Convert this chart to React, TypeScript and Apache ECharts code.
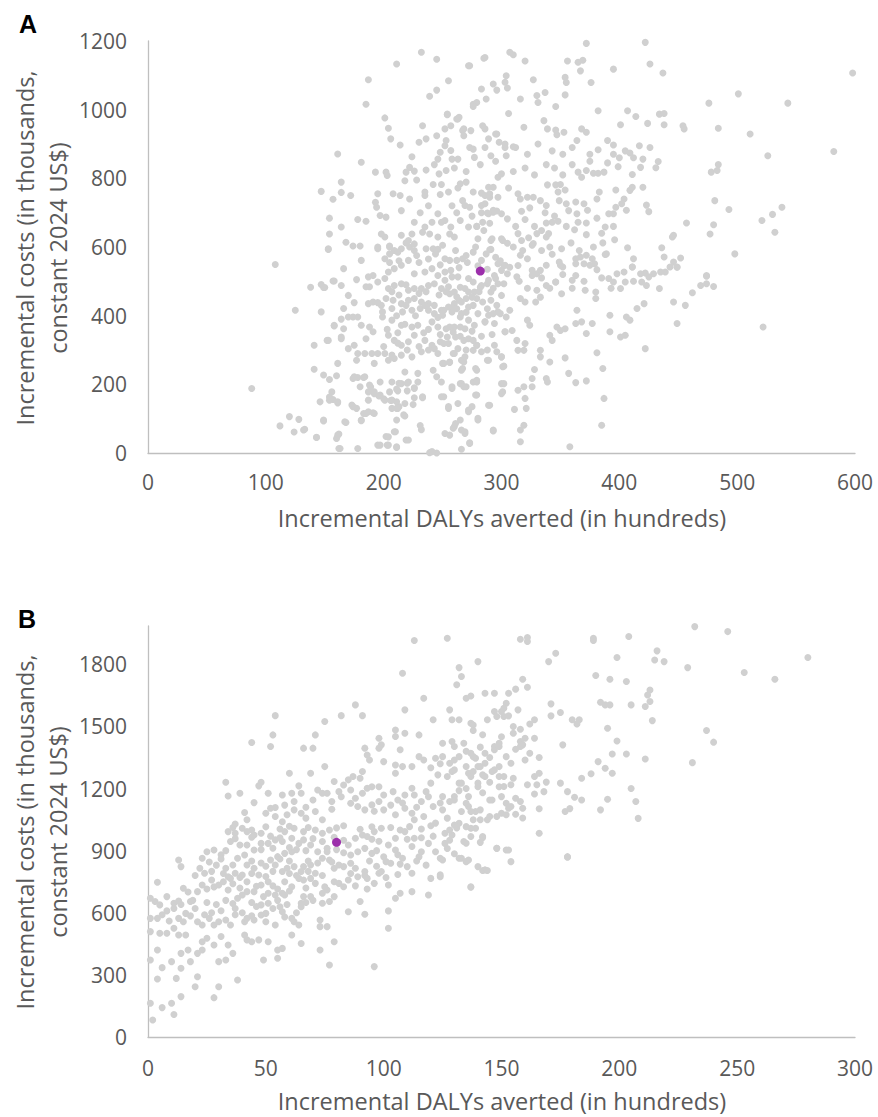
import React, { useEffect, useRef } from "react";
import * as echarts from "echarts";

// Panel A: incremental DALYs averted (hundreds) vs incremental costs (thousands, 2024 US$)
const pointsA: [number, number][] = [
  [88,188],[108,549],[125,416],[112,79],[120,106],[124,61],[128,98],[132,67],[143,46],[138,483],[147,491],[149,482],[157,501],[164,488],[147,411],[141,314],[152,328],[158,370],[164,338],[141,244],[149,227],[154,214],[160,225],[146,149],[154,163],[157,156],[161,146],[174,135],[149,93],[162,55],[168,89],[163,13],[178,13],[181,94],[185,115],[191,117],[175,222],[178,220],[183,220],[187,178],[189,192],[192,173],[196,166],[200,158],[206,153],[197,207],[207,207],[213,203],[212,181],[220,203],[220,181],[211,130],[213,135],[217,111],[226,188],[226,161],[233,161],[197,23],[202,48],[203,23],[211,16],[210,62],[219,38],[231,80],[232,68],[239,1],[245,0],
  [153,593],[166,537],[150,482],[158,501],[177,505],[181,561],[170,459],[175,438],[166,421],[164,390],[170,396],[174,396],[178,396],[187,513],[191,517],[195,498],[185,484],[188,484],[187,435],[191,440],[195,438],[181,372],[188,367],[191,353],[158,372],[166,362],[153,328],[164,333],[170,304],[175,314],[185,333],[178,290],[184,290],[190,290],[195,290],[201,290],[207,285],[177,270],[192,261],[204,270],[209,275],[161,261],[156,178],[154,154],[161,149],[174,217],[180,193],[184,222],[173,140],[177,130],[188,198],[192,178],[197,169],[201,154],[187,154],[183,115],[187,120],[192,115],[181,96],[215,202],[221,207],[226,190],[205,178],[211,186],[207,154],[211,149],[207,130],[212,130],[218,144],[225,141],[211,96],[218,108],[229,207],[233,164],[204,47],[209,62],[195,23],[204,23],[211,18],[221,38],[162,13],[160,42],[161,52],[143,45],[167,91],[149,96],[133,69],
  [195,595],[201,566],[205,580],[209,590],[215,595],[222,600],[226,590],[242,595],[246,593],[252,566],[256,561],[262,561],[267,566],[276,585],[283,561],[291,593],[297,551],[303,547],
  [204,527],[209,537],[215,547],[221,561],[226,522],[235,527],[241,537],[246,517],[252,527],[257,532],[263,513],[272,508],[289,503],[294,517],[300,532],
  [201,508],[204,479],[209,488],[215,493],[221,474],[226,479],[232,479],[238,488],[243,493],[249,479],[255,484],[260,469],[269,479],[277,469],[283,488],[291,469],[297,493],
  [202,450],[208,445],[215,435],[221,445],[226,450],[232,440],[238,435],[243,430],[249,416],[255,425],[260,435],[266,440],[272,425],[279,450],[284,440],[291,445],[300,459],
  [199,411],[207,421],[216,411],[224,416],[231,421],[238,416],[243,406],[250,401],[258,411],[265,396],[272,387],[280,406],[289,401],[297,411],[304,396],
  [199,396],[207,387],[215,372],[224,367],[229,372],[241,382],[246,367],[253,362],[260,367],[269,362],[277,372],[286,382],[294,377],[303,353],
  [204,343],[209,328],[215,314],[221,324],[226,343],[235,328],[241,314],[248,324],[255,319],[263,304],[272,333],[279,314],[283,295],[294,314],
  [215,285],[224,280],[232,295],[243,304],[250,261],[256,264],[266,270],[267,246],[279,241],[289,270],[300,280],[301,251],
  [218,236],[229,232],[242,241],[245,222],[249,207],[258,188],[266,202],[270,193],[279,207],[300,202],[301,178],
  [249,164],[255,130],[263,144],[272,120],[280,101],[279,169],[289,139],[293,67],
  [241,4],[252,57],[256,52],[260,77],[266,67],[269,62],[273,28],
  [232,1167],[245,1147],[211,1133],[272,1128],[286,1152],[187,1087],[185,1016],[255,1084],[245,1057],[239,1039],[283,1060],[293,1075],[296,1057],[304,1099],[276,1016],[279,1021],[287,1031],[201,976],[204,946],[206,915],[214,897],[254,987],[263,973],[257,953],[252,944],[233,953],[236,915],[230,905],[245,924],[267,939],[268,924],[274,939],[284,953],[286,944],[289,915],[296,929],[252,895],[253,910],[257,881],[258,856],[263,856],[248,876],[246,856],[273,890],[276,885],[277,861],[286,890],[291,866],[298,905],[303,890],[304,866],[161,871],[181,847],[224,863],[222,832],[219,818],[226,821],[218,793],[193,818],[202,818],[203,808],[228,795],[236,824],[247,813],[253,823],[147,762],[164,789],[164,759],[157,739],[172,750],[195,755],[208,755],[214,750],[222,740],[235,760],[235,750],[242,782],[249,782],[248,753],[255,760],[265,784],[270,789],[263,772],[276,760],[283,757],[286,750],[290,745],[289,774],[293,774],[300,813],[297,803],[193,730],[194,716],[197,692],[202,687],[215,706],[226,672],[235,658],[241,672],[246,697],[249,672],[252,677],[257,658],[265,677],[267,735],[269,721],[273,716],[283,721],[286,726],[289,697],[293,701],[284,672],[290,669],[154,684],[154,638],[164,658],[178,680],[185,675],[168,614],[174,603],[180,603],[153,595],[198,638],[201,629],[195,600],[205,603],[215,634],[221,619],[224,638],[226,609],[233,643],[239,638],[246,629],[256,638],[260,629],[272,658],[279,660],[280,624],[291,619],[301,619],
  [372,1193],[422,1196],[426,1133],[437,1107],[395,1118],[365,1138],[369,1144],[367,1113],[356,1142],[376,1079],[354,1094],[355,1079],[354,1043],[598,1107],[501,1046],[476,1019],[543,1019],[285,1150],[307,1167],[310,1160],[320,1142],[273,1128],[303,1080],[305,1063],[327,1087],[330,1041],[331,1021],[337,1050],[316,1031],[276,1009],[346,1009],[382,997],[407,997],[414,980],[401,956],[424,960],[434,987],[438,989],[438,956],[454,953],[455,944],[484,946],[511,929],[526,866],[582,878],[254,985],[262,973],[264,978],[306,989],[336,968],[339,944],[346,941],[347,927],[353,934],[319,949],[268,944],[295,929],[303,900],[310,892],[364,910],[368,944],[372,934],[382,883],[390,910],[395,897],[409,874],[417,895],[426,890],[420,856],[418,832],[433,849],[431,831],[399,834],[378,815],[382,815],[387,818],[372,823],[365,818],[368,803],[411,811],[397,766],[404,740],[402,726],[397,716],[406,707],[411,774],[409,765],[420,774],[423,722],[425,703],[383,760],[381,740],[363,731],[370,726],[373,707],[354,766],[346,781],[350,782],[339,781],[348,760],[349,735],[355,726],[357,706],[364,697],[365,672],[381,684],[388,658],[391,697],[395,697],[396,621],[407,598],[412,566],[422,524],[372,636],[389,580],[436,598],[438,571],[445,629],[446,634],[452,568],[446,556],[449,541],[457,670],[480,665],[477,638],[481,735],[493,709],[478,818],[483,823],[484,840],[521,677],[530,695],[538,716],[532,643],[498,580],[474,515],[290,755],[297,745],[306,772],[314,755],[316,740],[322,745],[327,745],[333,735],[338,721],[317,704],[324,714],[288,699],[293,707],[300,697],[305,682],[314,639],[317,619],[323,627],[327,610],[330,639],[334,648],[338,670],[343,672],[348,675],[338,629],[340,639],[300,624],[305,611],[292,624],[279,660],[285,648],[290,592],[316,576],[322,566],[343,579],[349,556],[352,542],[363,566],[367,571],[372,576],[377,566],[379,551],[388,578],[404,527],[411,542],[302,546],[307,541],[314,546],[326,532],[330,522],
  [474,517],[469,488],[474,493],[480,485],[462,467],[456,430],[446,440],[449,377],[522,367],[422,304],[415,421],[421,435],[406,396],[409,387],[401,479],[405,498],[411,542],[419,498],[423,488],[429,522],[435,527],[439,527],[443,542],[449,542],[418,522],[425,513],[434,479],[401,338],[405,343],[392,401],[392,353],[381,292],[386,246],[387,159],[385,81],[377,377],[372,348],[363,377],[368,382],[364,416],[357,232],[363,205],[372,210],[358,18],[354,277],[380,469],[371,474],[380,450],[391,508],[395,498],[398,522],[347,367],[350,357],[341,343],[343,328],[354,362],[351,464],[346,498],[360,503],[363,517],[370,551],[375,547],[381,534],[341,265],[338,217],[339,207],[328,243],[326,217],[326,193],[319,193],[314,183],[320,159],[321,130],[311,127],[319,81],[316,67],[316,33],[302,253],[300,280],[302,202],[300,173],[290,139],[293,64],[280,96],[278,169],[276,207],[275,135],[272,125],[269,57],[265,96],[273,30],[266,11],[261,86],[259,72],[255,135],[258,193],[251,164],[265,202],[268,193],[278,246],[279,212],[266,241],[251,261],[256,265],[268,265],[269,280],[276,299],[279,314],[288,270],[313,328],[320,319],[319,299],[314,299],[333,299],[333,280],[259,290],[251,319],[282,483],[275,454],[293,406],[286,382],[299,406],[307,416],[303,353],[309,357],[322,387],[324,372],[316,450],[320,440],[329,440],[333,454],[338,488],[346,498],[330,474],[313,513],[326,517],[333,532],[338,547],[350,547],[363,551],[254,338],[261,338],[268,328],[276,328],[256,367],[265,367],[251,416],[259,425],[266,406],[256,464],[264,445],[252,503],[258,513],[265,483],[272,469],[276,498],[288,493],[295,508],[302,493],[305,522],
  [205,600],[212,585],[219,612],[228,575],[236,595],[244,580],[250,605],[261,590],[270,575],[278,600],[287,580],[295,570],
  [205,555],[213,560],[230,555],[238,565],[248,548],[264,540],[271,555],[280,545],[288,535],[299,560],
  [207,470],[213,460],[219,490],[230,465],[236,470],[247,460],[253,470],[262,455],[270,450],[281,470],[293,480],
  [198,430],[211,400],[219,430],[227,400],[235,430],[246,395],[262,420],[270,410],[276,430],[288,420],[296,430],
  [203,360],[212,350],[218,375],[234,350],[238,360],[248,345],[259,352],[265,340],[275,355],[283,340],[292,345],
  [200,310],[212,320],[220,300],[230,310],[238,300],[246,290],[260,290],[270,300],[288,300],[296,295],
  [310,600],[318,590],[326,605],[334,590],[341,600],[351,595],[359,612],[366,590],[378,600],[386,612],
  [312,660],[320,680],[328,660],[337,700],[345,690],[355,660],[362,650],[372,670],[385,640],[395,660],
  [310,820],[320,830],[328,810],[338,840],[345,830],[352,810],[360,840],[375,850],[390,845],[400,860],
  [312,890],[322,870],[331,900],[343,880],[352,870],[360,890],[375,870],[395,870],[405,880],[412,860],
  [315,500],[322,480],[334,510],[341,480],[352,520],[360,480],[370,500],[385,510],[393,480],[412,500],
  [231,700],[238,720],[258,720],[262,700],[275,690],[283,700],[296,705],[243,840],[260,830],[270,820],[282,840],[295,850]
];
const meanA: [number, number][] = [[282, 530]];

// Panel B
const pointsB: [number, number][] = [
  [113,1915],[127,1926],[108,1757],[132,1784],[133,1741],[131,1701],[140,1813],[147,1660],[135,1636],[137,1647],[117,1636],[109,1580],[121,1532],[128,1580],[129,1532],[132,1532],[137,1515],[138,1507],[144,1532],[150,1572],[151,1548],[88,1604],[82,1552],[91,1552],[75,1524],[54,1552],[53,1459],[52,1403],[44,1422],[71,1459],[66,1395],[70,1395],[75,1306],[60,1274],[69,1274],[92,1395],[93,1362],[94,1338],[98,1443],[99,1411],[98,1395],[105,1483],[105,1451],[109,1467],[107,1387],[115,1459],[100,1330],[105,1314],[108,1306],[105,1274],[112,1306],[115,1354],[117,1338],[125,1419],[129,1427],[134,1419],[122,1346],[125,1354],[128,1322],[130,1338],[137,1370],[139,1346],[143,1370],[147,1403],[149,1419],[33,1230],[34,1164],[39,1177],[48,1230],[47,1213],[51,1177],[45,1132],[41,1084],[42,1049],[37,1029],[50,1081],[52,1105],[54,1108],[57,1169],[61,1177],[62,1137],[65,1177],[64,1213],[70,1145],[72,1193],[74,1177],[54,1065],[57,1040],[59,1073],[62,1097],[65,1081],[67,1057],[71,1089],[74,1049],[76,1177],[78,1137],[79,1234],[81,1185],[83,1217],[85,1242],[87,1258],[90,1250],[91,1282],[86,1193],[88,1153],[91,1177],[93,1201],[95,1209],[98,1209],[86,1129],[89,1113],[92,1097],[95,1121],[98,1137],[100,1169],[104,1185],[106,1145],[109,1169],[112,1201],[113,1169],[100,1097],[105,1073],[109,1105],[112,1081],[116,1137],[118,1185],[120,1226],[123,1266],[127,1258],[129,1282],[121,1113],[125,1097],[128,1137],[130,1161],[133,1226],[136,1274],[138,1282],[140,1306],[143,1322],[146,1282],[149,1306],[136,1161],[140,1209],[143,1258],[146,1145],[149,1209],[151,1258],[133,1089],[136,1113],[139,1089],[141,1049],[145,1065],[150,1081],[113,1049],[117,1065],[122,1033],[127,1057],
  [4,747],[1,670],[3,654],[5,638],[8,678],[11,646],[13,657],[1,573],[4,573],[8,609],[11,621],[13,573],[15,557],[16,597],[1,509],[5,501],[8,501],[11,525],[13,493],[16,493],[18,654],[20,621],[21,702],[23,734],[15,718],[13,855],[14,823],[22,815],[23,863],[25,895],[28,903],[24,791],[27,758],[30,734],[32,750],[34,774],[37,791],[21,557],[23,541],[26,573],[28,541],[30,557],[33,565],[35,541],[23,460],[25,477],[28,444],[31,485],[34,444],[21,404],[23,420],[30,364],[33,372],[14,404],[17,420],[4,420],[1,372],[10,364],[14,332],[18,364],[21,291],[4,280],[6,335],[12,283],[1,163],[6,142],[11,109],[14,195],[10,163],[2,82],[20,243],[28,190],[30,243],[38,275],[36,404],[41,493],[42,469],[44,460],[47,469],[41,557],[42,573],[45,565],[38,670],[40,686],[42,702],[37,621],[34,710],[35,766],[33,815],[36,831],[38,863],[41,879],[42,831],[40,782],[45,815],[47,782],[42,750],[48,734],[51,750],[45,702],[49,678],[51,694],[54,686],[57,694],[58,686],[48,638],[51,646],[53,621],[56,629],[57,605],[48,589],[50,597],[54,541],[50,557],[51,460],[49,372],[55,420],[57,428],[55,380],[61,493],[65,452],[61,573],[62,557],[64,541],[65,646],[66,678],[69,678],[65,629],[52,855],[55,871],[58,887],[61,895],[54,831],[57,799],[59,815],[62,823],[65,799],[66,823],[69,831],[71,791],[58,750],[61,726],[64,766],[66,758],[69,766],[71,742],[57,944],[61,960],[64,935],[66,952],[69,927],[74,944],[76,911],[58,992],[62,1008],[66,992],[71,1000],[74,984],[77,1000],[34,992],[37,984],[40,1008],[42,992],[45,976],[48,984],[35,944],[39,927],[42,927],[45,903],[48,935],[51,935],[54,952],[74,863],[76,895],[77,855],[79,815],[81,831],[74,694],[76,710],[77,654],[79,678],[74,646],[79,750],[81,742],[83,726],[85,758],[73,565],[73,533],[76,533],[73,420],[77,348],[79,460],[85,605],[90,654],[92,593],[83,823],[86,839],[88,815],[89,774],[92,799],[93,766],[96,742],[98,791],[99,799],[85,927],[88,960],[91,976],[93,968],[96,992],[99,1008],[86,879],[89,895],[92,911],[95,887],[101,847],[103,839],[105,903],[108,863],[110,823],[112,791],[102,734],[105,670],[107,694],[112,702],[119,686],[120,766],[124,774],[102,609],[102,525],[96,340],[102,927],[105,960],[109,992],[113,960],[116,895],[119,935],[122,895],[124,863],[126,935],[129,976],[133,863],[136,855],[137,726],[140,823],[143,807],[148,911],[152,903],[134,944],[137,1008],[142,963],
  [135,936],[153,903],[154,847],[178,868],[132,863],[135,847],[142,804],[144,804],[137,723],[124,783],[125,855],
  [232,1982],[246,1958],[280,1833],[229,1784],[253,1760],[266,1728],[216,1865],[215,1821],[219,1813],[204,1934],[199,1833],[189,1926],[189,1915],[190,1746],[196,1728],[203,1717],[173,1853],[170,1813],[158,1921],[161,1929],[161,1910],[159,1728],[161,1689],[156,1680],[153,1660],[143,1660],[147,1572],[148,1548],[152,1612],[151,1588],[153,1551],[157,1580],[171,1609],[171,1551],[175,1567],[192,1617],[194,1604],[196,1604],[205,1604],[213,1676],[212,1652],[213,1620],[211,1596],[214,1528],[180,1532],[182,1512],[183,1532],[195,1491],[199,1430],[197,1367],[203,1367],[211,1343],[191,1330],[194,1298],[197,1274],[188,1271],[184,1250],[175,1226],[178,1185],[181,1158],[184,1145],[205,1200],[207,1137],[208,1056],[195,1148],[192,1097],[177,1089],[179,1103],[176,1411],[164,1443],[160,1443],[158,1427],[159,1411],[166,1350],[162,1512],[164,1532],[158,1486],[155,1467],[237,1480],[240,1424],[231,1325],[164,1258],[166,1274],[169,1231],[165,1218],[161,1218],[164,1174],[168,1185],[166,1102],[166,984],[156,1153],[158,1137],[159,1105],[156,1076],[159,1058],[178,871],[148,912],[142,968],[145,1145],[150,1161],[152,1129],[153,1105],[154,1113],[144,1049],[148,1065],[152,1073],[138,1049],[139,1008],[137,968],[132,1032],[135,1016],[130,1024],[126,984],[128,1000],[147,1387],[149,1403],[152,1354],[154,1322],[158,1403],[160,1338],[147,1290],[149,1258],[151,1210],[154,1218],[155,1250],[138,1354],[141,1306],[142,1266],[140,1226],[130,1403],[132,1354],[135,1306],[137,1258],[132,1226],[125,1161],[130,1145],[135,1129],[137,1089],[141,1097],
  [36,1012],[44,1000],[50,1015],[56,1005],[60,1018],[68,1012],[80,1010],[83,1020],[90,1003],[95,1015],[103,1012],[107,1000],[111,1016],[116,1005],[120,1020],[131,1010],
  [37,958],[44,965],[52,970],[56,962],[70,958],[79,965],[83,950],[95,955],[98,945],[110,955],[116,962],[121,970],[128,950],[141,940],
  [31,880],[33,900],[48,905],[53,912],[60,915],[63,905],[67,900],[72,895],[80,905],[83,890],[97,900],[100,870],[106,880],[112,920],[115,870],[127,910],[130,885],
  [26,845],[29,830],[31,860],[44,850],[48,840],[50,825],[56,860],[60,850],[68,850],[72,840],[78,845],[94,850],[97,825],[107,835],[114,850],[118,830],
  [20,780],[27,800],[32,790],[39,770],[44,790],[50,775],[53,800],[60,790],[63,780],[68,800],[74,780],[86,790],[92,780],[101,770],[106,785],
  [17,700],[25,715],[28,725],[36,740],[39,720],[46,728],[53,730],[55,715],[60,705],[67,720],[75,725],[88,730],[93,715],
  [14,640],[19,660],[25,650],[29,640],[33,660],[36,645],[44,650],[46,630],[55,660],[59,640],[67,650],[70,660],
  [6,590],[9,560],[18,585],[24,590],[27,600],[31,610],[37,590],[40,600],[44,585],[58,580],[63,600],
  [58,1120],[67,1110],[78,1100],[82,1160],[96,1090],[103,1120],[108,1130],[114,1110],[119,1160],[124,1130],[132,1190],[135,1200],[142,1180],[145,1230],
  [120,1300],[124,1320],[130,1290],[135,1380],[141,1400],[145,1350],[156,1390],[162,1370],[150,1450],[155,1500],[142,1460],[138,1480]
];
const meanB: [number, number][] = [[80, 940]];

const xTitle = "Incremental DALYs averted (in hundreds)";
const yTitle1 = "Incremental costs (in thousands,";
const yTitle2 = "constant 2024 US$)";

const FONT = "Open Sans";
const GREY = "#595959";

export default function App() {
  const ref = useRef<HTMLDivElement>(null);
  useEffect(() => {
    if (!ref.current) return;
    const chart = echarts.init(ref.current, undefined, { renderer: "svg" });
    const axisLine = { show: true, lineStyle: { color: "#bfbfbf", width: 1.3 } };
    const lbl = { color: GREY, fontSize: 21, fontFamily: FONT, formatter: (v: number) => String(v) };
    const mkX = (grid: number, max: number, interval: number, margin: number) => ({
      type: "value", gridIndex: grid, min: 0, max, interval,
      axisLine, axisTick: { show: false }, splitLine: { show: false },
      axisLabel: { ...lbl, margin },
    });
    const mkY = (grid: number, max: number, interval: number, showMax: boolean) => ({
      type: "value", gridIndex: grid, min: 0, max, interval,
      axisLine, axisTick: { show: false }, splitLine: { show: false },
      axisLabel: { ...lbl, margin: 21, showMaxLabel: showMax },
    });
    const txt = (x: number, y: number, text: string, rot = 0, extra: any = {}) => ({
      type: "text", x, y, rotation: rot, silent: true,
      style: { text, fill: GREY, font: `23.5px "${FONT}"`, lineHeight: 23, textAlign: "center", textVerticalAlign: "middle", ...extra },
    });
    chart.setOption({
      animation: false,
      grid: [
        { left: 148, top: 41, width: 707, height: 412 },
        { left: 148, top: 626, width: 707, height: 411 },
      ],
      xAxis: [mkX(0, 600, 100, 18), mkX(1, 300, 50, 20)],
      yAxis: [mkY(0, 1200, 200, true), mkY(1, 1985, 300, false)],
      series: [
        { type: "scatter", xAxisIndex: 0, yAxisIndex: 0, data: pointsA, symbolSize: 7, itemStyle: { color: "#d0d0d0", opacity: 1 }, silent: true },
        { type: "scatter", xAxisIndex: 0, yAxisIndex: 0, data: meanA, symbolSize: 9, itemStyle: { color: "#9c2fab", opacity: 1 }, silent: true, z: 3 },
        { type: "scatter", xAxisIndex: 1, yAxisIndex: 1, data: pointsB, symbolSize: 7, itemStyle: { color: "#d0d0d0", opacity: 1 }, silent: true },
        { type: "scatter", xAxisIndex: 1, yAxisIndex: 1, data: meanB, symbolSize: 9, itemStyle: { color: "#9c2fab", opacity: 1 }, silent: true, z: 3 },
      ],
      graphic: [
        txt(28, 24, "A", 0, { fill: "#000", font: 'bold 25px "Liberation Sans"', lineHeight: 25 }),
        txt(27, 619, "B", 0, { fill: "#000", font: 'bold 25px "Liberation Sans"', lineHeight: 25 }),
        txt(25, 248, yTitle1, Math.PI / 2),
        txt(58, 248, yTitle2, Math.PI / 2),
        txt(25, 832, yTitle1, Math.PI / 2),
        txt(58, 832, yTitle2, Math.PI / 2),
        txt(502, 518, xTitle),
        txt(502, 1101, xTitle),
      ],
    });
    return () => chart.dispose();
  }, []);
  return <div ref={ref} style={{ position: "absolute", left: 0, top: 0, width: 878, height: 1117 }} />;
}
